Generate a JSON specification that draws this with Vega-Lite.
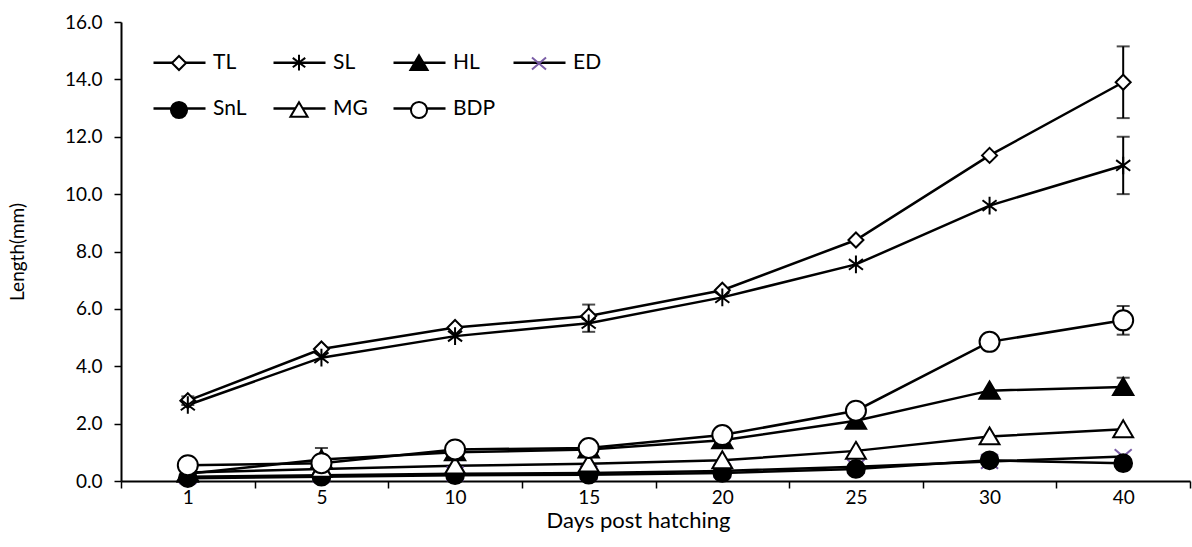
{
  "$schema": "https://vega.github.io/schema/vega-lite/v6.json",
  "width": 1069,
  "height": 459,
  "autosize": {"type": "none"},
  "padding": {"left": 121, "top": 22, "right": 2, "bottom": 66},
  "background": "white",
  "config": {
    "font": "Lato",
    "view": {"stroke": null},
    "axis": {"domainColor": "black", "domainWidth": 2, "tickColor": "black", "tickWidth": 1.5, "tickSize": 7, "labelColor": "black", "titleColor": "black", "labelFont": "Lato", "titleFont": "Lato", "titleFontWeight": "normal", "grid": false}
  },
  "data": {"values": [
    {"series": "ED", "day": 1, "value": 0.15},
    {"series": "ED", "day": 5, "value": 0.2},
    {"series": "ED", "day": 10, "value": 0.25},
    {"series": "ED", "day": 15, "value": 0.28},
    {"series": "ED", "day": 20, "value": 0.35},
    {"series": "ED", "day": 25, "value": 0.5},
    {"series": "ED", "day": 30, "value": 0.68},
    {"series": "ED", "day": 40, "value": 0.85},
    {"series": "SnL", "day": 1, "value": 0.1},
    {"series": "SnL", "day": 5, "value": 0.15},
    {"series": "SnL", "day": 10, "value": 0.2},
    {"series": "SnL", "day": 15, "value": 0.22},
    {"series": "SnL", "day": 20, "value": 0.28},
    {"series": "SnL", "day": 25, "value": 0.42},
    {"series": "SnL", "day": 30, "value": 0.72},
    {"series": "SnL", "day": 40, "value": 0.62},
    {"series": "MG", "day": 1, "value": 0.3},
    {"series": "MG", "day": 5, "value": 0.42},
    {"series": "MG", "day": 10, "value": 0.53},
    {"series": "MG", "day": 15, "value": 0.6},
    {"series": "MG", "day": 20, "value": 0.72},
    {"series": "MG", "day": 25, "value": 1.05},
    {"series": "MG", "day": 30, "value": 1.55},
    {"series": "MG", "day": 40, "value": 1.8},
    {"series": "HL", "day": 1, "value": 0.25},
    {"series": "HL", "day": 5, "value": 0.75},
    {"series": "HL", "day": 10, "value": 1.0},
    {"series": "HL", "day": 15, "value": 1.1},
    {"series": "HL", "day": 20, "value": 1.42},
    {"series": "HL", "day": 25, "value": 2.1},
    {"series": "HL", "day": 30, "value": 3.15},
    {"series": "HL", "day": 40, "value": 3.28, "lo": 3.28, "hi": 3.6},
    {"series": "TL", "day": 1, "value": 2.8, "lo": 2.65, "hi": 2.95},
    {"series": "TL", "day": 5, "value": 4.6},
    {"series": "TL", "day": 10, "value": 5.35},
    {"series": "TL", "day": 15, "value": 5.75, "lo": 5.75, "hi": 6.15},
    {"series": "TL", "day": 20, "value": 6.65},
    {"series": "TL", "day": 25, "value": 8.4},
    {"series": "TL", "day": 30, "value": 11.35},
    {"series": "TL", "day": 40, "value": 13.9, "lo": 12.65, "hi": 15.15},
    {"series": "SL", "day": 1, "value": 2.65},
    {"series": "SL", "day": 5, "value": 4.3},
    {"series": "SL", "day": 10, "value": 5.05},
    {"series": "SL", "day": 15, "value": 5.5, "lo": 5.2, "hi": 5.5},
    {"series": "SL", "day": 20, "value": 6.4},
    {"series": "SL", "day": 25, "value": 7.55},
    {"series": "SL", "day": 30, "value": 9.6},
    {"series": "SL", "day": 40, "value": 11.0, "lo": 10.0, "hi": 12.0},
    {"series": "BDP", "day": 1, "value": 0.55},
    {"series": "BDP", "day": 5, "value": 0.62, "lo": 0.62, "hi": 1.15},
    {"series": "BDP", "day": 10, "value": 1.1},
    {"series": "BDP", "day": 15, "value": 1.15},
    {"series": "BDP", "day": 20, "value": 1.6},
    {"series": "BDP", "day": 25, "value": 2.45},
    {"series": "BDP", "day": 30, "value": 4.85},
    {"series": "BDP", "day": 40, "value": 5.6, "lo": 5.1, "hi": 6.1}
  ]},
  "encoding": {
    "x": {
      "field": "day", "type": "ordinal",
      "scale": {"type": "band", "paddingInner": 0, "paddingOuter": 0},
      "axis": {"title": "Days post hatching", "labelAngle": 0, "tickBand": "extent", "labelFontSize": 19, "titleFontSize": 22, "labelPadding": 0, "titlePadding": 3, "titleX": 517}
    },
    "y": {
      "field": "value", "type": "quantitative",
      "scale": {"domain": [0, 16], "nice": false},
      "axis": {"title": "Length(mm)", "values": [0, 2, 4, 6, 8, 10, 12, 14, 16], "format": ".1f", "labelFontSize": 19, "titleFontSize": 19, "labelPadding": 12, "titlePadding": 37}
    }
  },
  "layer": [
    {
      "mark": {"type": "line", "strokeWidth": 2.5},
      "encoding": {
        "color": {
          "field": "series", "type": "nominal",
          "sort": ["TL", "SL", "HL", "ED", "SnL", "MG", "BDP"],
          "scale": {"range": ["black", "black", "black", "black", "black", "black", "black"]},
          "legend": {
            "title": null, "orient": "none", "legendX": 31, "legendY": 13, "columns": 4, "direction": "horizontal", "gridAlign": "all",
            "symbolType": "M-1,0L1,0", "symbolSize": 2704, "symbolStrokeWidth": 2.5, "symbolStrokeColor": "black",
            "labelFontSize": 21, "labelFont": "Lato", "labelColor": "black", "labelOffset": 6,
            "columnPadding": 12, "rowPadding": 8, "padding": 0, "zindex": 0
          }
        }
      }
    },
    {
      "transform": [{"filter": "isValid(datum.lo)"}],
      "mark": {"type": "rule", "strokeWidth": 2, "color": "black"},
      "encoding": {"y": {"field": "lo", "type": "quantitative"}, "y2": {"field": "hi"}}
    },
    {
      "transform": [{"filter": "isValid(datum.lo) && datum.lo < datum.value"}],
      "mark": {"type": "tick", "orient": "horizontal", "size": 13, "thickness": 2, "color": "black"},
      "encoding": {"y": {"field": "lo", "type": "quantitative"}}
    },
    {
      "transform": [{"filter": "isValid(datum.hi) && datum.hi > datum.value"}],
      "mark": {"type": "tick", "orient": "horizontal", "size": 13, "thickness": 2, "color": "black"},
      "encoding": {"y": {"field": "hi", "type": "quantitative"}}
    },
    {
      "mark": {"type": "point", "filled": false, "strokeWidth": 2, "opacity": 1},
      "encoding": {
        "shape": {
          "field": "series", "type": "nominal",
          "scale": {
            "domain": ["TL", "SL", "HL", "ED", "SnL", "MG", "BDP"],
            "range": [
              "M0,-0.27L0.27,0L0,0.27L-0.27,0Z",
              "M0,-0.3L0,0.3M-0.24,-0.18L0.24,0.18M-0.24,0.18L0.24,-0.18",
              "M0,-0.3L0.33,0.26L-0.33,0.26Z",
              "M-0.27,-0.23L0.27,0.23M-0.27,0.23L0.27,-0.23",
              "M0.31,0A0.31,0.31,0,1,1,-0.31,0A0.31,0.31,0,1,1,0.31,0Z",
              "M0,-0.3L0.33,0.26L-0.33,0.26Z",
              "M0.31,0A0.31,0.31,0,1,1,-0.31,0A0.31,0.31,0,1,1,0.31,0Z"
            ]
          },
          "legend": {
            "title": null, "orient": "none", "legendX": 31, "legendY": 13, "columns": 4, "direction": "horizontal", "gridAlign": "all",
            "symbolSize": 2704, "symbolStrokeWidth": 2, "symbolOpacity": 1,
            "labelFontSize": 21, "labelFont": "Lato", "labelExpr": "''", "labelOffset": 6,
            "columnPadding": 60, "rowPadding": 8, "padding": 0, "zindex": 1
          }
        },
        "fill": {
          "field": "series", "type": "nominal",
          "scale": {"domain": ["TL", "SL", "HL", "ED", "SnL", "MG", "BDP"], "range": ["white", "transparent", "black", "transparent", "black", "white", "white"]},
          "legend": {
            "title": null, "orient": "none", "legendX": 31, "legendY": 13, "columns": 4, "direction": "horizontal", "gridAlign": "all",
            "symbolSize": 2704, "symbolStrokeWidth": 2, "symbolOpacity": 1,
            "labelFontSize": 21, "labelFont": "Lato", "labelExpr": "''", "labelOffset": 6,
            "columnPadding": 60, "rowPadding": 8, "padding": 0, "zindex": 1
          }
        },
        "stroke": {
          "field": "series", "type": "nominal",
          "scale": {"domain": ["TL", "SL", "HL", "ED", "SnL", "MG", "BDP"], "range": ["black", "black", "black", "#7b5ea7", "black", "black", "black"]},
          "legend": {
            "title": null, "orient": "none", "legendX": 31, "legendY": 13, "columns": 4, "direction": "horizontal", "gridAlign": "all",
            "symbolSize": 2704, "symbolStrokeWidth": 2, "symbolOpacity": 1,
            "labelFontSize": 21, "labelFont": "Lato", "labelExpr": "''", "labelOffset": 6,
            "columnPadding": 60, "rowPadding": 8, "padding": 0, "zindex": 1
          }
        },
        "size": {
          "field": "series", "type": "nominal",
          "scale": {"range": [4162, 3086, 2652, 2652, 3600, 3006, 3969]},
          "legend": null
        }
      }
    }
  ]
}
